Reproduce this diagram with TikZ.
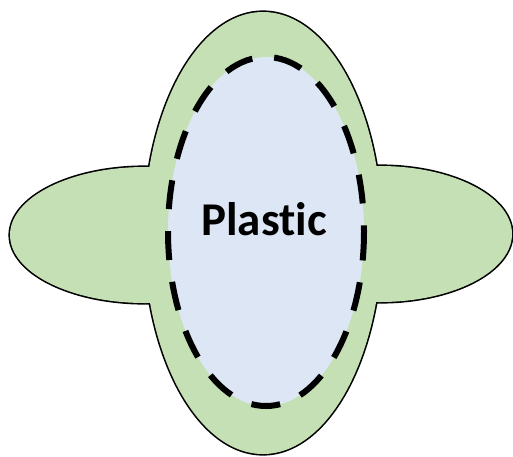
\documentclass[tikz,border=0pt]{standalone}
\usepackage{fontspec}
\setmainfont[Ligatures={NoCommon}]{Carlito}
\usepackage{tikz}
\usetikzlibrary{calc,positioning}
\definecolor{leafx}{HTML}{C5E0B4}
\definecolor{skyx}{HTML}{DCE6F4}
\tikzset{
  rim/.style={draw=black,line width=3.2pt,fill=leafx},
  pad/.style={fill=leafx},
  cell/.style={draw=black,fill=skyx,line width=6pt,dash pattern=on 29pt off 22pt},
  lbl/.style={font=\fontsize{47}{56}\selectfont\bfseries,text=black,inner sep=0pt}
}
\begin{document}
\begin{tikzpicture}[x=1pt,y=-1pt]
\useasboundingbox (0,0) rectangle (513,456);
% outer body: stroke first, then cover the inner half
\draw[rim] (263,233) ellipse [x radius=119,y radius=221];
\draw[rim] (145,235) ellipse [x radius=135,y radius=68];
\draw[rim] (380,234) ellipse [x radius=132,y radius=68];
\fill[pad] (263,233) ellipse [x radius=119,y radius=221];
\fill[pad] (145,235) ellipse [x radius=135,y radius=68];
\fill[pad] (380,234) ellipse [x radius=132,y radius=68];
% inner membrane
\draw[cell] (266,231.5) ellipse [x radius=98,y radius=174.5];
\node[lbl] (plastic) at (264,219) {Plastic};
\end{tikzpicture}
\end{document}
